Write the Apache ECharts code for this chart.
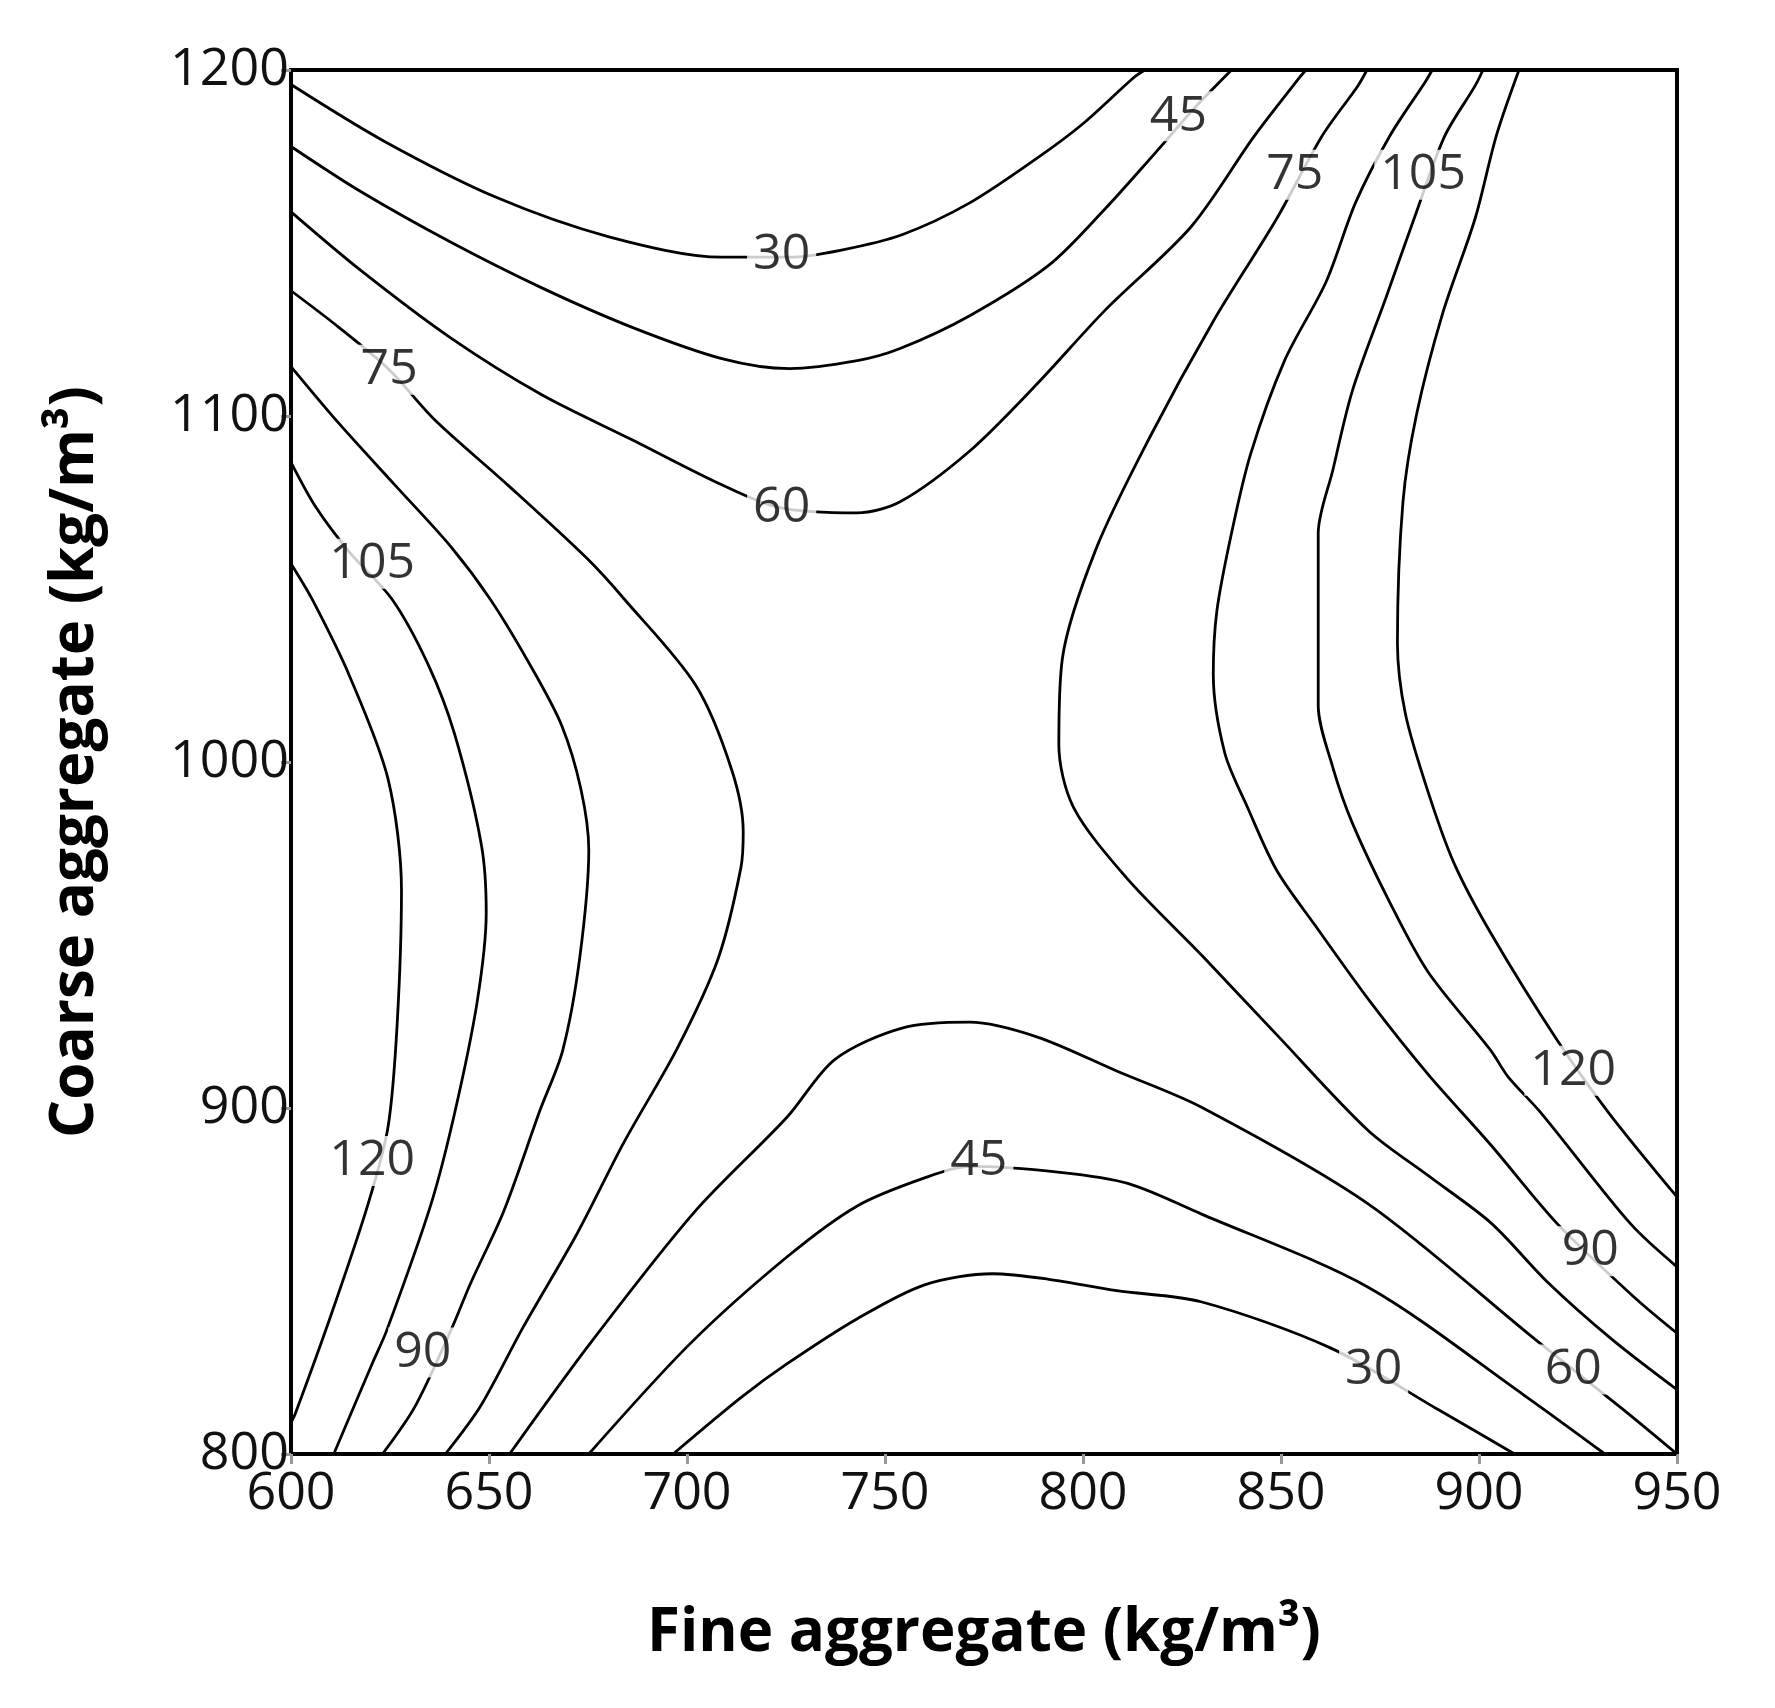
<!DOCTYPE html>
<html><head><meta charset="utf-8">
<script src="https://cdn.jsdelivr.net/npm/echarts@6/dist/echarts.min.js"></script>
<style>html,body{margin:0;padding:0;background:#fff}#c{width:1775px;height:1708px}</style>
</head><body><div id="c"></div>
<script>
const xTicks = [600,650,700,750,800,850,900,950];
const yTicks = [800,900,1000,1100,1200];

const c30top = [[600,1195.8],[623.4,1179.5],[651.8,1163.2],[680.3,1151.8],[708.8,1145.9],[725.9,1145.9],[738.7,1147.9],[754.3,1152.4],[771.4,1161.6],[788.5,1174.6],[799.9,1184.4],[812.7,1197.7],[815.6,1200]];
const c30bot = [[696.5,800],[713.6,816.3],[725.3,826.1],[743.0,839.1],[760.0,848.9],[777.1,852.1],[791.4,850.5],[808.5,847.2],[829.8,844.0],[862.6,830.6],[889.9,812.7],[909.0,800]];
const c45top = [[600,1177.9],[617.7,1164.8],[640.4,1150.2],[663.2,1137.1],[686.0,1125.7],[708.8,1116.6],[725.9,1113.7],[743.0,1116.0],[753.8,1119.5],[771.4,1129.0],[791.4,1143.6],[805.6,1159.9],[817.6,1175.2],[828.4,1189.3],[837.5,1200]];
const c45bot = [[675.2,800],[700.8,831.9],[725.3,857.0],[743.0,871.7],[760.0,879.8],[771.4,883.1],[794.2,881.4],[811.3,878.2],[829.8,869.4],[872.0,848.2],[911.5,816.9],[931.8,800]];
const c60top = [[600,1159.0],[617.7,1142.0],[640.4,1122.5],[663.2,1106.2],[686.0,1093.2],[708.8,1080.1],[723.0,1073.6],[743.0,1072.0],[753.8,1075.2],[771.4,1089.9],[788.5,1109.4],[805.6,1130.6],[827.3,1154.7],[843.2,1180.8],[854.6,1197.7],[856.3,1200]];
const c60bot = [[655.2,800],[675.5,831.9],[701.7,869.7],[725.3,897.4],[737.3,914.0],[754.3,923.1],[771.4,924.8],[788.5,920.5],[808.5,910.7],[829.8,900.3],[872.0,872.3],[914.1,833.2],[936.6,812.7],[950,800]];
const c75left = [[600,1136.2],[612.0,1125.7],[624.8,1113.4],[636.2,1099.0],[654.7,1080.1],[674.6,1059.0],[684.3,1046.9],[702.2,1022.2],[711.3,997.7],[714.2,979.8],[713.6,969.4],[707.9,943.3],[697.7,917.6],[684.0,889.9],[672.3,863.8],[658.7,836.8],[647.8,813.7],[639.0,800]];
const c75right = [[871.7,1200],[869.4,1195.4],[860.3,1180.8],[848.9,1157.0],[832.9,1127.4],[816.7,1093.5],[803.3,1061.6],[794.8,1030.0],[793.9,1004.9],[797.6,986.9],[811.0,966.5],[830.1,944.0],[848.9,921.2],[872.0,893.5],[887.1,880.5],[903.0,866.8],[917.2,849.8],[933.5,833.2],[950,818.6]];
const c90left = [[600,1114.3],[612.0,1098.0],[626.2,1080.1],[640.4,1062.2],[650.4,1046.9],[660.4,1028.0],[668.3,1010.7],[673.2,992.2],[675.2,974.6],[672.9,943.3],[668.6,916.6],[662.9,899.4],[653.8,870.4],[645.3,849.2],[640.4,835.8],[631.3,813.7],[623.1,800]];
const c90right = [[888.2,1200],[886.5,1196.7],[877.4,1180.8],[868.8,1161.6],[861.4,1138.8],[850.9,1116.0],[842.3,1088.9],[837.5,1066.1],[833.8,1043.6],[832.9,1025.4],[835.8,1002.6],[841.5,987.0],[848.9,968.7],[858.6,952.8],[872.8,930.3],[887.1,909.8],[903.0,889.3],[919.8,866.5],[939.2,845.3],[950,834.9]];
const c105left = [[600,1086.6],[606.3,1073.6],[614.8,1060.6],[625.6,1046.9],[634.7,1028.0],[641.3,1008.1],[648.1,975.9],[649.3,956.4],[647.0,930.6],[641.3,898.4],[635.3,872.0],[624.2,835.8],[620.5,826.1],[610.8,800]];
const c105right = [[901.0,1200],[899.0,1195.4],[891.3,1180.8],[883.6,1157.0],[876.5,1134.2],[868.0,1107.2],[863.1,1084.4],[859.4,1066.1],[859.4,1016.3],[863.1,998.4],[868.0,982.4],[877.4,959.6],[887.1,939.4],[903.0,916.6],[907.3,909.1],[915.8,898.4],[938.3,866.5],[950,854.1]];
const c120left = [[600,1057.3],[605.4,1046.9],[614.8,1024.8],[624.5,995.1],[627.9,962.9],[626.8,924.1],[624.5,894.5],[619.4,872.0],[610.0,839.8],[601.1,811.7],[600,809.1]];
const c120right = [[910.1,1200],[904.4,1181.1],[899.0,1157.0],[890.8,1129.6],[884.2,1100.3],[880.8,1075.2],[879.4,1034.5],[881.4,1014.0],[887.1,991.5],[893.6,971.0],[903.0,950.5],[919.8,919.5],[932.9,898.4],[950,874.3]];

const contourLabels = [
  [723.9,1146.6,'30'],[824.1,1186.6,'45'],[624.8,1113.4,'75'],[723.9,1073.6,'60'],
  [853.5,1169.7,'75'],[885.9,1169.7,'105'],[620.5,1057.3,'105'],[620.5,884.7,'120'],
  [633.3,829.3,'90'],[773.7,884.7,'45'],[873.4,824.4,'30'],[923.8,824.4,'60'],
  [928.1,858.6,'90'],[923.8,910.8,'120']
];

const curves = [c30top,c30bot,c45top,c45bot,c60top,c60bot,c75left,c75right,c90left,c90right,c105left,c105right,c120left,c120right];
const series = curves.map(d => ({
  type:'line', data:d, showSymbol:false, smooth:0.3, silent:true,
  lineStyle:{color:'#000', width:2.8}, z:2
}));
series.push({
  type:'scatter', data:contourLabels, symbolSize:0, zlevel:1, z:10,
  label:{show:true, position:'inside', formatter:p=>p.value[2], color:'#000',
    fontFamily:'Open Sans', fontSize:50, backgroundColor:'#fff', padding:[0,6],
    textBorderWidth:0}
});

const chart = echarts.init(document.getElementById('c'));
chart.setOption({
  animation:false,
  grid:{left:291, right:98, top:70, bottom:254, show:true, borderColor:'#000', borderWidth:4, backgroundColor:'#fff'},
  xAxis:{type:'value', min:600, max:950, interval:50,
    name:'Fine aggregate (kg/m³)', nameLocation:'middle', nameGap:150,
    nameTextStyle:{fontFamily:'Open Sans', fontWeight:'bold', fontSize:60, color:'#000'},
    axisLine:{show:false}, splitLine:{show:false},
    axisTick:{show:true, length:10, lineStyle:{color:'#999', width:3}},
    axisLabel:{fontFamily:'Open Sans', fontSize:52, color:'#111', margin:14, formatter:v=>String(v)}},
  yAxis:{type:'value', min:800, max:1200, interval:100,
    name:'Coarse aggregate (kg/m³)', nameLocation:'middle', nameGap:185,
    nameTextStyle:{fontFamily:'Open Sans', fontWeight:'bold', fontSize:60, color:'#000'},
    axisLine:{show:false}, splitLine:{show:false},
    axisTick:{show:true, length:10, lineStyle:{color:'#999', width:3}},
    axisLabel:{fontFamily:'Open Sans', fontSize:52, color:'#111', margin:2, formatter:v=>String(v)}},
  series:series
});
</script></body></html>
